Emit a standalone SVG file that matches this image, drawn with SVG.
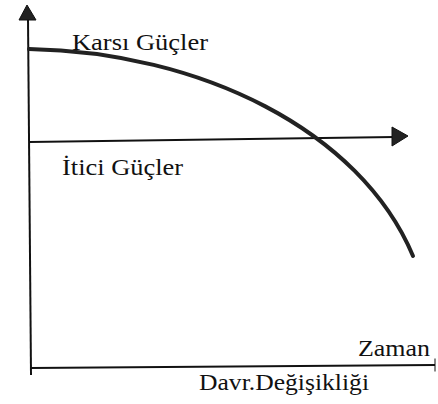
<svg xmlns="http://www.w3.org/2000/svg" width="438" height="404" viewBox="0 0 438 404">
<style>
.ax{stroke:#111;stroke-width:2;fill:none;stroke-linecap:square}
.cv{stroke:#222;stroke-width:4;fill:none;stroke-linecap:round}
.hd{fill:#222;stroke:#111;stroke-width:1}
.lb{font-family:"Liberation Serif","Times New Roman",serif;font-size:23px;fill:#111}
</style>
<rect width="438" height="404" fill="#fff"/>
<g id="connectors">
<line class="ax" x1="28" y1="18" x2="31" y2="374"/>
<polygon class="hd" points="27,5 19,20 36,20"/>
<line class="ax" x1="30" y1="142" x2="394" y2="137"/>
<polygon class="hd" points="392,127 408,136 392,146"/>
<line class="ax" x1="31" y1="368" x2="434" y2="365"/>
<line class="ax" x1="435" y1="359" x2="435" y2="371" style="stroke-width:1"/>
<path class="cv" d="M29,49 C200,52 360,130 413,256"/>
</g>
<g id="karsi"><text class="lb" x="72" y="50" textLength="136" lengthAdjust="spacingAndGlyphs">Karsı Güçler</text></g>
<g id="itici"><text class="lb" x="62" y="175" textLength="121" lengthAdjust="spacingAndGlyphs">İtici Güçler</text></g>
<g id="zaman"><text class="lb" x="358" y="356" textLength="72" lengthAdjust="spacingAndGlyphs">Zaman</text></g>
<g id="davr"><text class="lb" x="199" y="390" textLength="170" lengthAdjust="spacingAndGlyphs">Davr.Değişikliği</text></g>
</svg>
